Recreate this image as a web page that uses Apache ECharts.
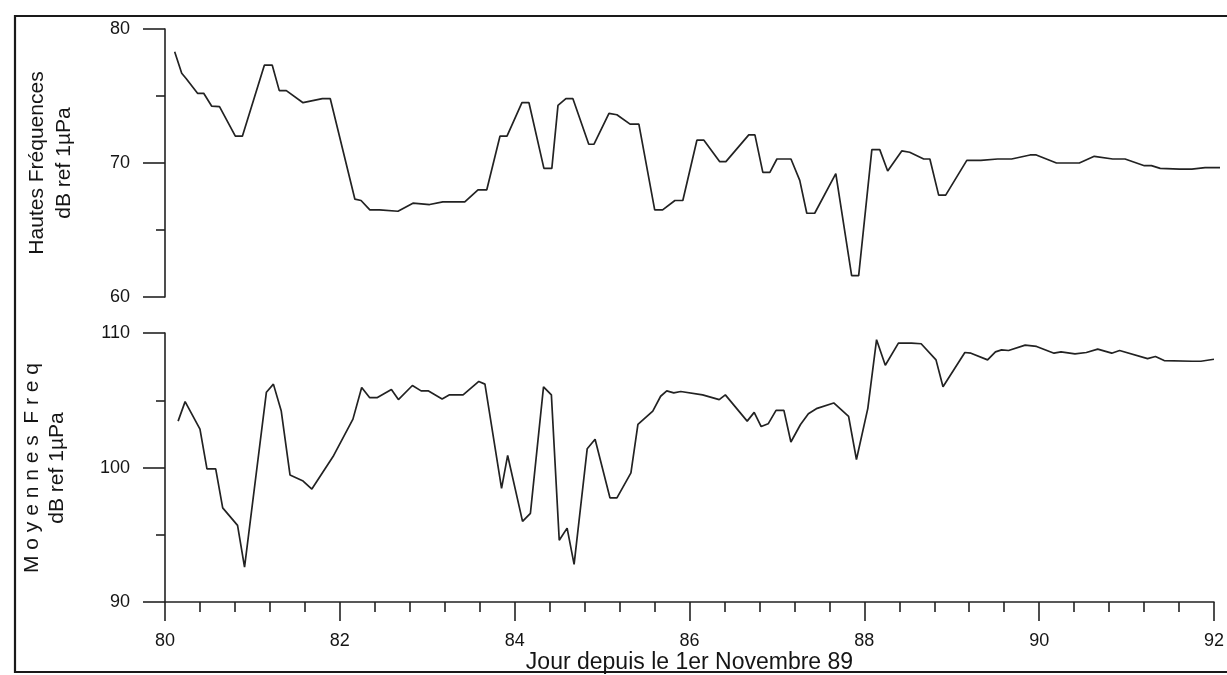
<!DOCTYPE html>
<html>
<head>
<meta charset="utf-8">
<script src="https://cdn.jsdelivr.net/npm/echarts@6/dist/echarts.min.js"></script>
<style>
html,body{margin:0;padding:0;background:#fff;}
#chart{width:1227px;height:675px;}
</style>
</head>
<body>
<div id="chart"></div>
<script>
// Day axis
var xTicks = [80, 82, 84, 86, 88, 90, 92];
// Hautes Fréquences (dB ref 1µPa)
var hfDays = [80.11, 80.19, 80.24, 80.37, 80.44, 80.53, 80.62, 80.80, 80.88, 81.13, 81.22, 81.30, 81.38, 81.57, 81.79, 81.88, 82.16, 82.23, 82.33, 82.44, 82.65, 82.82, 83.01, 83.16, 83.41, 83.56, 83.66, 83.81, 83.89, 84.06, 84.14, 84.31, 84.40, 84.47, 84.56, 84.64, 84.82, 84.88, 85.05, 85.14, 85.29, 85.39, 85.57, 85.66, 85.80, 85.89, 86.05, 86.13, 86.31, 86.38, 86.64, 86.71, 86.80, 86.88, 86.96, 87.12, 87.22, 87.30, 87.39, 87.63, 87.81, 87.89, 88.04, 88.13, 88.22, 88.38, 88.47, 88.63, 88.70, 88.80, 88.88, 89.12, 89.28, 89.47, 89.63, 89.84, 89.91, 90.14, 90.40, 90.57, 90.78, 90.92, 91.14, 91.22, 91.32, 91.54, 91.68, 91.83, 92.0];
var hfVals = [78.3, 76.7, 76.3, 75.2, 75.2, 74.25, 74.2, 72.0, 72.0, 77.3, 77.3, 75.4, 75.4, 74.5, 74.8, 74.8, 67.3, 67.2, 66.5, 66.5, 66.4, 67.0, 66.9, 67.1, 67.1, 68.0, 68.0, 72.0, 72.0, 74.5, 74.5, 69.6, 69.6, 74.3, 74.8, 74.8, 71.4, 71.4, 73.7, 73.6, 72.9, 72.9, 66.5, 66.5, 67.2, 67.2, 71.7, 71.7, 70.1, 70.1, 72.1, 72.1, 69.3, 69.3, 70.3, 70.3, 68.7, 66.25, 66.25, 69.2, 61.6, 61.6, 71.0, 71.0, 69.4, 70.9, 70.8, 70.3, 70.3, 67.6, 67.6, 70.2, 70.2, 70.3, 70.3, 70.6, 70.6, 70.0, 70.0, 70.5, 70.3, 70.3, 69.8, 69.8, 69.6, 69.55, 69.55, 69.65, 69.65];
// Moyennes Freq (dB ref 1µPa)
var mfDays = [80.15, 80.23, 80.40, 80.48, 80.58, 80.66, 80.83, 80.91, 81.16, 81.24, 81.33, 81.43, 81.58, 81.68, 81.93, 82.15, 82.25, 82.34, 82.43, 82.59, 82.67, 82.83, 82.93, 83.01, 83.17, 83.25, 83.41, 83.59, 83.66, 83.85, 83.92, 84.09, 84.18, 84.33, 84.42, 84.51, 84.60, 84.68, 84.83, 84.92, 85.09, 85.17, 85.33, 85.41, 85.58, 85.67, 85.74, 85.82, 85.90, 86.15, 86.34, 86.41, 86.66, 86.74, 86.82, 86.90, 86.99, 87.08, 87.16, 87.27, 87.36, 87.46, 87.65, 87.82, 87.91, 88.04, 88.14, 88.24, 88.39, 88.54, 88.65, 88.82, 88.90, 89.15, 89.22, 89.41, 89.50, 89.57, 89.65, 89.84, 89.97, 90.17, 90.25, 90.41, 90.54, 90.67, 90.83, 90.92, 91.24, 91.33, 91.43, 91.75, 91.85, 92.0];
var mfVals = [103.45, 104.9, 102.85, 99.9, 99.9, 97.0, 95.7, 92.6, 105.6, 106.2, 104.2, 99.45, 99.0, 98.4, 100.9, 103.6, 105.95, 105.2, 105.2, 105.8, 105.05, 106.1, 105.7, 105.7, 105.1, 105.4, 105.4, 106.4, 106.2, 98.45, 100.9, 96.0, 96.6, 106.0, 105.4, 94.6, 95.5, 92.8, 101.4, 102.1, 97.75, 97.75, 99.6, 103.2, 104.2, 105.3, 105.7, 105.55, 105.65, 105.4, 105.05, 105.4, 103.45, 104.1, 103.05, 103.25, 104.25, 104.25, 101.9, 103.2, 104.0, 104.4, 104.8, 103.8, 100.6, 104.4, 109.5, 107.6, 109.25, 109.25, 109.2, 108.0, 106.0, 108.55, 108.5, 108.0, 108.6, 108.75, 108.7, 109.1, 109.0, 108.5, 108.6, 108.45, 108.55, 108.8, 108.5, 108.7, 108.1, 108.25, 107.95, 107.9, 107.9, 108.05];

var hfData = hfDays.map(function (d, i) { return [d, hfVals[i]]; });
var mfData = mfDays.map(function (d, i) { return [d, mfVals[i]]; });

var INK = '#222';
var TXT = '#151515';
var FONT = 'Liberation Sans, Arial, sans-serif';

var chart = echarts.init(document.getElementById('chart'), null, {renderer: 'canvas'});
function yAxisCfg(gi, min, max) {
  return {
    type: 'value', gridIndex: gi, min: min, max: max, interval: 10,
    axisLine: {show: true, lineStyle: {color: INK, width: 1.6}},
    axisTick: {show: true, length: 22, lineStyle: {color: INK, width: 1.6}},
    minorTick: {show: true, splitNumber: 2, length: 9, lineStyle: {color: INK, width: 1.6}},
    splitLine: {show: false},
    axisLabel: {color: TXT, fontSize: 18, fontFamily: FONT, margin: 35}
  };
}
chart.setOption({
  animation: false,
  backgroundColor: '#fff',
  grid: [
    {left: 165, right: 7, top: 29, height: 268},
    {left: 165, right: 7, top: 333, height: 271}
  ],
  xAxis: [
    {type: 'value', gridIndex: 0, min: xTicks[0], max: xTicks[xTicks.length - 1], interval: 2, show: false},
    {type: 'value', gridIndex: 1, min: xTicks[0], max: xTicks[xTicks.length - 1], interval: 2,
     axisLine: {show: true, lineStyle: {color: INK, width: 1.6}},
     axisTick: {show: true, length: 19, lineStyle: {color: INK, width: 1.6}},
     minorTick: {show: true, splitNumber: 5, length: 10, lineStyle: {color: INK, width: 1.6}},
     splitLine: {show: false},
     axisLabel: {color: TXT, fontSize: 18, fontFamily: FONT, margin: 30},
     name: 'Jour depuis le 1er Novembre 89', nameLocation: 'middle', nameGap: 47,
     nameTextStyle: {color: TXT, fontSize: 23, fontFamily: FONT}
    }
  ],
  yAxis: [yAxisCfg(0, 60, 80), yAxisCfg(1, 90, 110)],
  series: [
    {type: 'line', xAxisIndex: 0, yAxisIndex: 0, data: hfData, symbol: 'none',
     lineStyle: {color: INK, width: 1.7}},
    {type: 'line', xAxisIndex: 1, yAxisIndex: 1, data: mfData, symbol: 'none',
     lineStyle: {color: INK, width: 1.7}}
  ],
  graphic: [
    {type: 'rect', shape: {x: 15, y: 16, width: 1300, height: 656}, style: {fill: null, stroke: '#1a1a1a', lineWidth: 2.2}, silent: true},
    {type: 'text', x: 37, y: 163, rotation: Math.PI / 2, style: {text: 'Hautes Fréquences', fill: TXT, font: '21px ' + FONT, textAlign: 'center', textVerticalAlign: 'middle'}},
    {type: 'text', x: 64, y: 163, rotation: Math.PI / 2, style: {text: 'dB ref 1µPa', fill: TXT, font: '21px ' + FONT, textAlign: 'center', textVerticalAlign: 'middle'}},
    {type: 'text', x: 32, y: 468, rotation: Math.PI / 2, style: {text: 'M o y e n n e s  F r e q', fill: TXT, font: '21px ' + FONT, textAlign: 'center', textVerticalAlign: 'middle'}},
    {type: 'text', x: 57, y: 468, rotation: Math.PI / 2, style: {text: 'dB ref 1µPa', fill: TXT, font: '21px ' + FONT, textAlign: 'center', textVerticalAlign: 'middle'}}
  ]
});
</script>
</body>
</html>
